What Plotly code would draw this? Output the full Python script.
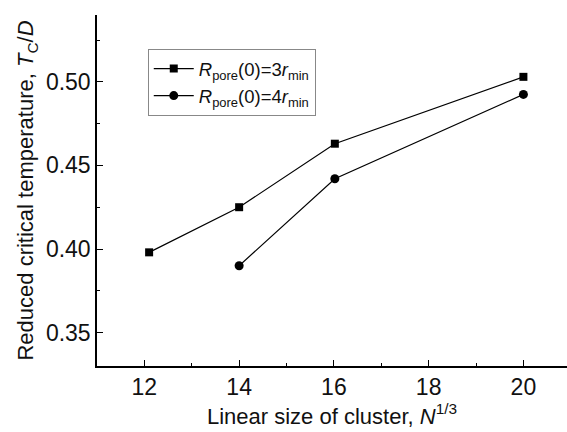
import plotly.graph_objects as go

x3 = [12.1, 14, 16.02, 20]
y3 = [0.398, 0.425, 0.463, 0.503]
x4 = [14, 16.02, 20]
y4 = [0.390, 0.442, 0.4925]
name3 = "<i>R</i><sub>pore</sub>(0)=3<i>r</i><sub>min</sub>"
name4 = "<i>R</i><sub>pore</sub>(0)=4<i>r</i><sub>min</sub>"

font = "Liberation Sans, Arial, sans-serif"
fig = go.Figure()
fig.add_trace(go.Scatter(x=x3, y=y3, mode="lines+markers", name=name3,
                         line=dict(color="black", width=1.2),
                         marker=dict(symbol="square", size=8, color="black")))
fig.add_trace(go.Scatter(x=x4, y=y4, mode="lines+markers", name=name4,
                         line=dict(color="black", width=1.2),
                         marker=dict(symbol="circle", size=9, color="black")))

fig.update_layout(
    width=567, height=432,
    margin=dict(l=97, r=0, t=15, b=66),
    paper_bgcolor="white", plot_bgcolor="white",
    font=dict(family=font, size=22, color="#111111"),
    showlegend=True,
    legend=dict(x=0.108, y=0.903, xanchor="left", yanchor="top",
                bordercolor="#888888", borderwidth=1, bgcolor="white",
                font=dict(family=font, size=18.5), itemwidth=40, tracegroupgap=0),
    xaxis=dict(range=[11, 20.92], tickmode="array", tickvals=[12, 14, 16, 18, 20],
               tickfont=dict(family=font, size=23),
               ticks="inside", ticklen=6, tickwidth=1.3, tickcolor="black",
               minor=dict(tickvals=[13, 15, 17, 19], ticks="inside", ticklen=3, tickcolor="black", tickwidth=1.3),
               showline=True, linecolor="black", linewidth=1.5, showgrid=False, zeroline=False,
               title=dict(text="Linear size of cluster, <i>N</i><sup>1/3</sup>", standoff=4,
                          font=dict(family=font, size=22))),
    yaxis=dict(range=[0.33, 0.54], tickmode="array", tickvals=[0.35, 0.40, 0.45, 0.50],
               ticktext=["0.35", "0.40", "0.45", "0.50"], tickfont=dict(family=font, size=23),
               ticks="inside", ticklen=6, tickwidth=1.3, tickcolor="black",
               minor=dict(tickvals=[0.375, 0.425, 0.475, 0.525], ticks="inside", ticklen=3, tickcolor="black", tickwidth=1.3),
               showline=True, linecolor="black", linewidth=1.5, showgrid=False, zeroline=False,
               title=dict(text="Reduced critical temperature, <i>T</i><sub>C</sub>/<i>D</i>", standoff=6,
                          font=dict(family=font, size=22))),
)
fig.write_html("out.html")
